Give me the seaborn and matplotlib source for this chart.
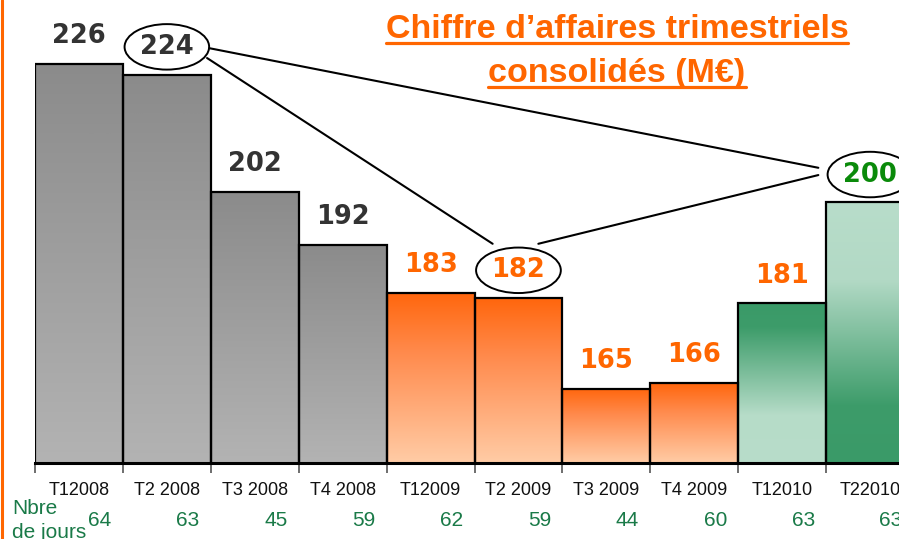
import numpy as np
import matplotlib
matplotlib.use("Agg")
import matplotlib.pyplot as plt
import matplotlib.colors as mcolors
from matplotlib.lines import Line2D
import seaborn as sns

# ---------------- data ----------------
categories = ["T12008", "T2 2008", "T3 2008", "T4 2008", "T12009",
              "T2 2009", "T3 2009", "T4 2009", "T12010", "T22010"]
revenue = [226, 224, 202, 192, 183, 182, 165, 166, 181, 200]
days = [64, 63, 45, 59, 62, 59, 44, 60, 63, 63]
groups = ["2008", "2008", "2008", "2008", "2009", "2009", "2009", "2009", "T1 2010", "T2 2010"]
circled = [1, 5, 9]  # indices of the circled values
title_lines = ["Chiffre d\u2019affaires trimestriels", "consolid\u00e9s (M\u20ac)"]

# ---------------- style ----------------
sns.set_style("white")
plt.rcParams["font.family"] = ["Liberation Sans", "DejaVu Sans"]

W, H = 899, 539
fig = plt.figure(figsize=(W / 100, H / 100), dpi=100)
fig.patch.set_facecolor("white")

ymin = 151.0
px_per_unit = 5.32
ax_left, ax_right, ax_base = 35, 914, 463
ax = fig.add_axes([ax_left / W, (H - ax_base) / H, (ax_right - ax_left) / W, ax_base / H])
ax.set_facecolor("none")

gradients = {
    "2008": [(0.0, "#8b8b8b"), (1.0, "#b3b3b3")],
    "2009": [(0.0, "#ff660d"), (0.35, "#ff8a4c"), (1.0, "#ffcca6")],
    "T1 2010": [(0.0, "#3a9a68"), (0.15, "#3d9c6a"), (0.7, "#b6dcc8"), (1.0, "#b8ddca")],
    "T2 2010": [(0.0, "#b8ddca"), (0.3, "#b2d9c5"), (0.78, "#3d9c6a"), (1.0, "#3a9a68")],
}
label_colors = {"2008": "#333333", "2009": "#ff6600", "T1 2010": "#ff6600", "T2 2010": "#0a8a0a"}

sns.barplot(x=categories, y=revenue, hue=categories, palette=["#999999"] * len(categories),
            legend=False, width=1.0, edgecolor="black", linewidth=1.6, ax=ax, saturation=1)

ymax = ymin + ax_base / px_per_unit

for patch, grp in zip(ax.patches, groups):
    x0, w = patch.get_x(), patch.get_width()
    top = patch.get_y() + patch.get_height()
    cmap = mcolors.LinearSegmentedColormap.from_list(grp, gradients[grp])
    grad = np.linspace(0, 1, 256).reshape(-1, 1)
    im = ax.imshow(grad, cmap=cmap, extent=[x0, x0 + w, ymin, top], origin="upper",
                   aspect="auto", zorder=patch.get_zorder() - 0.1, interpolation="bilinear")
    im.set_clip_path(patch)
    patch.set_facecolor("none")
ax.set_ylim(ymin, ymax)
ax.set_xlim(-0.5, len(categories) - 0.5)

# axes styling
for s in ["left", "top", "right"]:
    ax.spines[s].set_visible(False)
ax.spines["bottom"].set_linewidth(2.2)
ax.spines["bottom"].set_color("black")
ax.set_yticks([])
ax.set_xticks(range(len(categories)))
ax.set_xticklabels(categories, fontsize=13, color="#111111")
ax.tick_params(axis="x", which="major", bottom=False, length=0, pad=14)
ax.set_xticks(np.arange(-0.5, len(categories) + 0.5, 1.0), minor=True)
ax.tick_params(axis="x", which="minor", bottom=True, length=7, width=1.2, color="#555555")
ax.set_xlabel("")
ax.set_ylabel("")

# days row
trans = matplotlib.transforms.blended_transform_factory(ax.transData, ax.transAxes)
day_offset = matplotlib.transforms.ScaledTranslation(21 / 100, 0, fig.dpi_scale_trans)
for i, d in enumerate(days):
    ax.text(i, -58 / ax_base, str(d), transform=trans + day_offset, ha="center", va="center",
            fontsize=15, color="#1a7a48", clip_on=False)
fig.text(12 / W, (H - 508) / H, "Nbre", fontsize=15, color="#1a7a48", ha="left", va="center")
fig.text(12 / W, (H - 533) / H, "de jours", fontsize=15, color="#1a7a48", ha="left", va="center")

# value labels
anns = []
for i, (v, grp) in enumerate(zip(revenue, groups)):
    kw = {}
    if i in circled:
        kw["bbox"] = dict(boxstyle="ellipse,pad=0.12", fc="none", ec="black", lw=1.4)
    a = ax.annotate(str(v), xy=(i, v), xytext=(0, 20), textcoords="offset points",
                    ha="center", va="center", fontsize=18.5, fontweight="bold",
                    family="DejaVu Sans", color=label_colors[grp], annotation_clip=False, **kw)
    anns.append(a)

# connector lines between circled values
a224, a182, a200 = anns[circled[0]], anns[circled[1]], anns[circled[2]]
line_kw = dict(arrowstyle="-", lw=1.5, color="black", shrinkA=0, shrinkB=0)
ax.annotate("", xy=(-0.46, 0.76), xycoords=a200, xytext=(1.29, 0.45), textcoords=a224,
            arrowprops=line_kw, annotation_clip=False)
ax.annotate("", xy=(0.02, 1.52), xycoords=a182, xytext=(1.25, 0.07), textcoords=a224,
            arrowprops=line_kw, annotation_clip=False)
ax.annotate("", xy=(-0.46, 0.48), xycoords=a200, xytext=(0.87, 1.52), textcoords=a182,
            arrowprops=line_kw, annotation_clip=False)

# left orange rule
fig.add_artist(Line2D([2 / W, 2 / W], [0, 1], transform=fig.transFigure, color="#ff6600", lw=2.2))

# title with underline
title_texts = []
for line, base in zip(title_lines, [38, 82]):
    t = fig.text(617 / W, (H - base) / H, line, fontsize=24.5, fontweight="bold",
                 color="#ff6600", ha="center", va="baseline", family="Liberation Sans")
    title_texts.append((t, base))
fig.canvas.draw()
r = fig.canvas.get_renderer()
for t, base in title_texts:
    bb = t.get_window_extent(r)
    yl = (H - base - 5) / H
    fig.add_artist(Line2D([bb.x0 / W, bb.x1 / W], [yl, yl], transform=fig.transFigure,
                          color="#ff6600", lw=2.3))

fig.savefig("out.png", dpi=100, facecolor="white")
